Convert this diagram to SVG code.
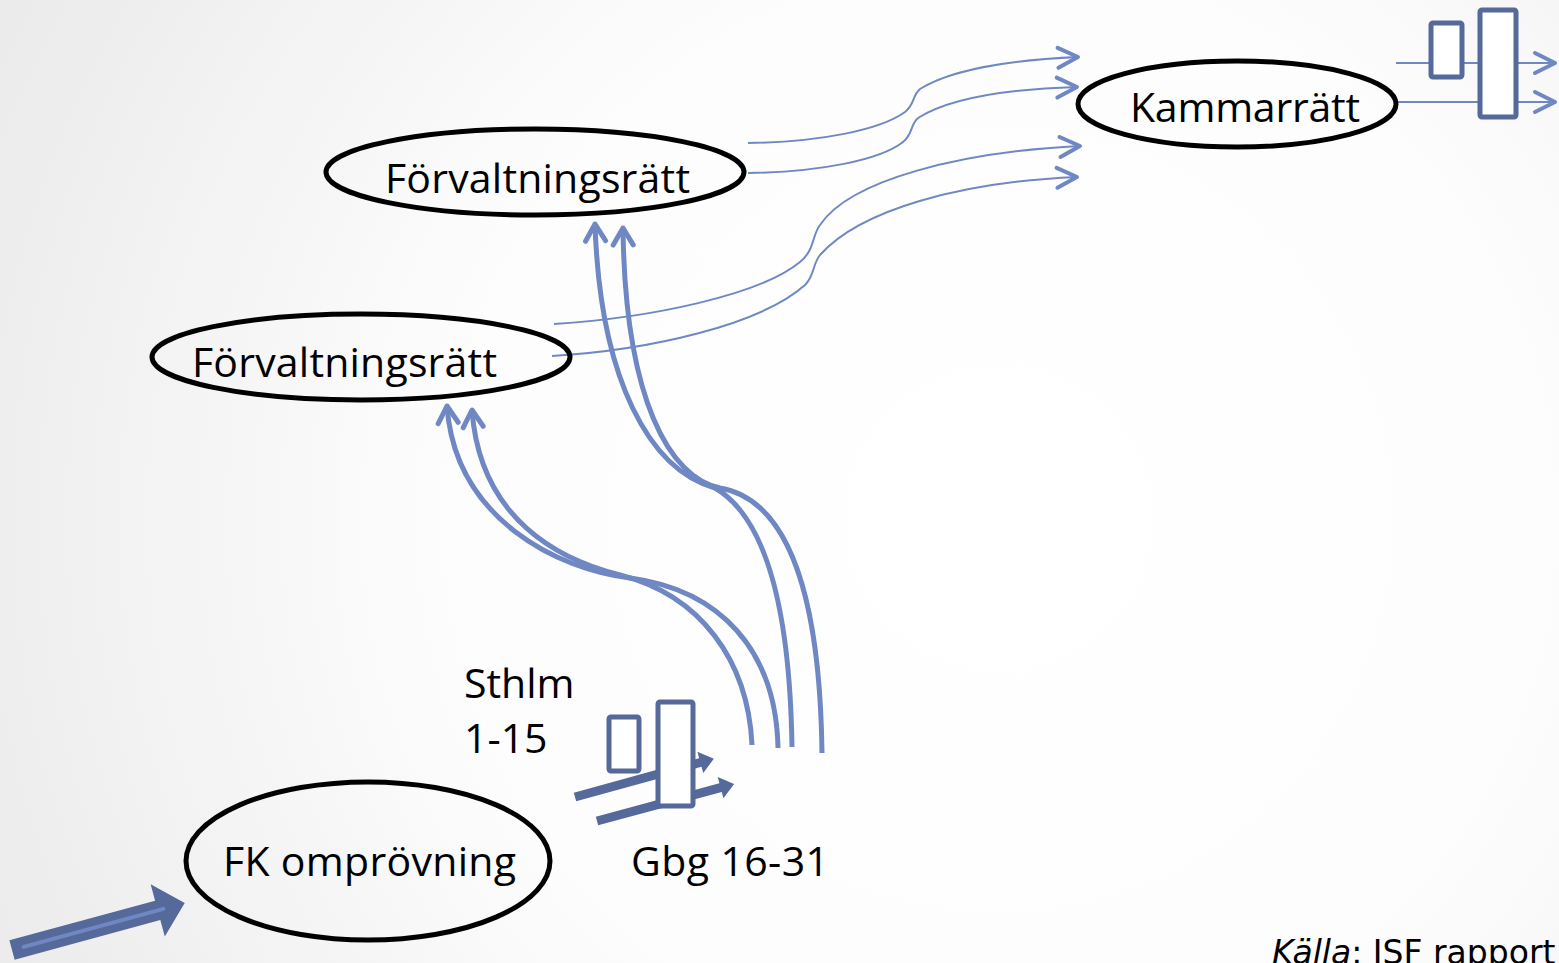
<svg xmlns="http://www.w3.org/2000/svg" width="1559" height="963" viewBox="0 0 1559 963">
<defs>
<radialGradient id="bg" cx="1000" cy="520" r="1100" gradientUnits="userSpaceOnUse">
<stop offset="0" stop-color="#ffffff"/>
<stop offset="0.5" stop-color="#fdfdfd"/>
<stop offset="1" stop-color="#ebebeb"/>
</radialGradient>
<marker id="thin" markerUnits="userSpaceOnUse" viewBox="-26 -15 30 30" refX="0" refY="0" markerWidth="30" markerHeight="30" orient="auto" overflow="visible">
<path d="M-20,-10 L0,0 L-20,10" fill="none" stroke="#6f88c3" stroke-width="4" stroke-linecap="round" stroke-linejoin="round"/>
</marker>
<marker id="thick" markerUnits="userSpaceOnUse" viewBox="-24 -15 28 30" refX="0" refY="0" markerWidth="28" markerHeight="30" orient="auto" overflow="visible">
<path d="M-17,-10 L0,0 L-17,10" fill="none" stroke="#6f88c3" stroke-width="5" stroke-linecap="round" stroke-linejoin="round"/>
</marker>
</defs>
<style>
.node{fill:none;stroke:#000;stroke-width:5}
.lbl{font-family:"Open Sans","Liberation Sans",sans-serif;font-size:41px;fill:#000}
.thin{fill:none;stroke:#6f88c3;stroke-width:2}
.thick{fill:none;stroke:#6f88c3;stroke-width:5}
.bar{fill:#fff;stroke:#55699a;stroke-width:5;stroke-linejoin:round}
.dark{fill:#55699a}
</style>
<rect width="1559" height="963" fill="url(#bg)"/>

<g id="connectors">
<path class="thin" d="M748,143 C820,142 880,130 905,112 C915,104 912,96 920,89 C950,70 1010,60 1078,57" marker-end="url(#thin)"/>
<path class="thin" d="M748,173 C820,172 880,160 903,142 C913,134 910,125 918,118 C950,98 1010,89 1077,87" marker-end="url(#thin)"/>
<path class="thin" d="M554,324 C650,318 760,295 800,262 C815,250 812,235 820,225 C850,180 960,152 1080,146" marker-end="url(#thin)"/>
<path class="thin" d="M552,356 C650,350 760,325 805,285 C815,275 812,265 820,255 C860,210 960,182 1077,177" marker-end="url(#thin)"/>
<path class="thick" d="M778,748 C776,650 720,590 630,578 C560,570 455,520 447,406" marker-end="url(#thick)"/>
<path class="thick" d="M752,745 C748,660 700,595 620,575 C560,560 480,520 472,410" marker-end="url(#thick)"/>
<path class="thick" d="M792,747 C790,620 770,520 715,488 C650,470 600,380 595,224" marker-end="url(#thick)"/>
<path class="thick" d="M822,753 C820,600 790,500 720,488 C670,478 625,400 623,228" marker-end="url(#thick)"/>
<line class="thin" x1="1396" y1="63" x2="1555" y2="63" marker-end="url(#thin)"/>
<line class="thin" x1="1397" y1="102" x2="1555" y2="102" marker-end="url(#thin)"/>
</g>

<g id="kammar-gate">
<rect class="bar" x="1431" y="23" width="31" height="54" rx="2"/>
<rect class="bar" x="1480" y="10" width="36" height="107" rx="2"/>
</g>

<g id="fk-input-arrow" transform="translate(12,950) rotate(-15.2)">
<polygon class="dark" points="0,-10 151,-10 151,-27 179,0 151,27 151,10 0,10"/>
<line x1="12" y1="0" x2="157" y2="0" stroke="#6f88c3" stroke-width="4" stroke-linecap="round"/>
</g>

<g id="split-gate">
<g transform="translate(575,797) rotate(-15.4)">
<polygon class="dark" points="0,-4.5 130,-4.5 130,-11 144,0 130,11 130,4.5 0,4.5"/>
</g>
<g transform="translate(597,821) rotate(-15.1)">
<polygon class="dark" points="0,-4.5 128,-4.5 128,-11 142,0 128,11 128,4.5 0,4.5"/>
</g>
<rect class="bar" x="609" y="717" width="30" height="54" rx="2"/>
<rect class="bar" x="658" y="702" width="35" height="104" rx="2"/>
</g>

<g id="node-forv-top">
<ellipse class="node" cx="535" cy="172" rx="209" ry="43"/>
<text class="lbl" x="385" y="193" textLength="305" lengthAdjust="spacing">Förvaltningsrätt</text>
</g>
<g id="node-forv-low">
<ellipse class="node" cx="361" cy="357" rx="209" ry="43"/>
<text class="lbl" x="192" y="377" textLength="305" lengthAdjust="spacing">Förvaltningsrätt</text>
</g>
<g id="node-kammar">
<ellipse class="node" cx="1237" cy="104" rx="159" ry="43"/>
<text class="lbl" x="1130" y="122" textLength="230" lengthAdjust="spacing">Kammarrätt</text>
</g>
<g id="node-fk">
<ellipse class="node" cx="368" cy="861" rx="182" ry="79"/>
<text class="lbl" x="223" y="876" textLength="293" lengthAdjust="spacing">FK omprövning</text>
</g>
<g id="labels">
<text class="lbl" x="464" y="698">Sthlm</text>
<text class="lbl" x="464" y="753">1-15</text>
<text class="lbl" x="631" y="876" textLength="198" lengthAdjust="spacing">Gbg 16-31</text>
<text x="1272" y="964" font-family="'DejaVu Sans','Liberation Sans',sans-serif" font-size="33" fill="#000"><tspan font-style="italic">Källa</tspan>: ISF rapport</text>
</g>
</svg>
